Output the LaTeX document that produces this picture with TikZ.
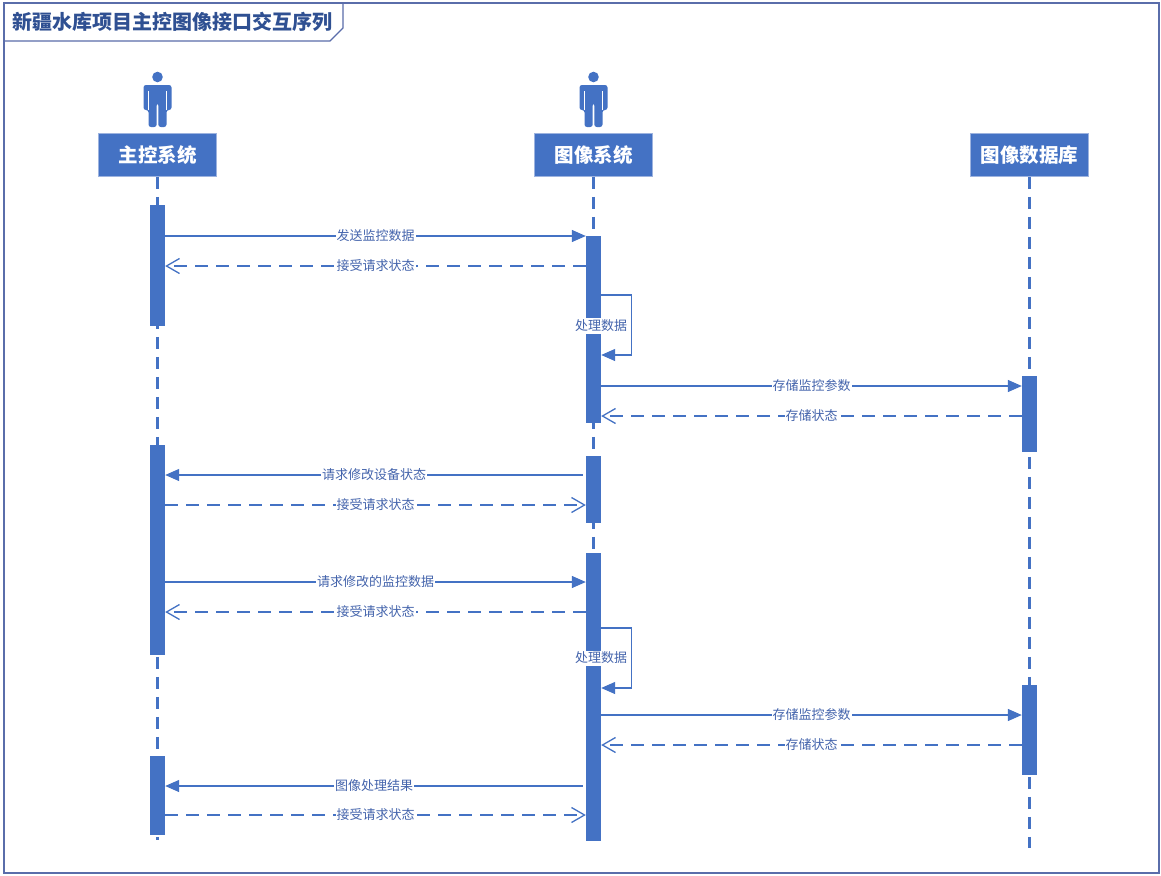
\documentclass[tikz,border=0pt]{standalone}
\usepackage{fontspec}
\setmainfont{Noto Sans CJK SC}
\usetikzlibrary{arrows.meta}
\definecolor{ublue}{HTML}{4472C4}
\definecolor{hdrline}{HTML}{9DB3DF}
\definecolor{framec}{HTML}{5A6DAA}
\definecolor{ttl}{HTML}{2F5092}
\definecolor{lbl}{HTML}{4464AC}
\begin{document}
\begin{tikzpicture}[x=1pt,y=-1pt,
  lifeline/.style={draw=ublue, line width=2.2pt, dash pattern=on 12pt off 8pt},
  actbar/.style={fill=ublue, draw=none, minimum width=15pt, inner sep=0pt, anchor=north},
  header/.style={fill=ublue, draw=hdrline, line width=0.8pt, text=white,
    font=\fontsize{19.5}{22}\selectfont\bfseries, minimum width=118pt, minimum height=43pt,
    inner sep=0pt, anchor=north},
  msg/.style={ublue, line width=1.3pt, -{Triangle[length=14pt,width=12pt]}},
  ret/.style={ublue, line width=1.3pt, dash pattern=on 13pt off 8pt,
    -{Straight Barb[length=13pt,width=15pt]}},
  lab/.style={fill=white, inner xsep=1pt, inner ysep=1.5pt, text=lbl,
    font=\fontsize{13}{15}\selectfont},
  actor/.pic={
    \fill[ublue] (0,0) circle (5.3pt);
    \fill[ublue, rounded corners=2.5pt] (-14,33) -- (-14,8) -- (14,8) -- (14,33) -- (9,33)
      -- (9,50) -- (0.8,50) -- (0.8,26) -- (-0.8,26) -- (-0.8,50) -- (-9,50) -- (-9,33) -- cycle;
    \draw[white, line width=0.8pt] (-9,14) -- (-9,33) (9,14) -- (9,33);
  }
]
\useasboundingbox (0,0) rectangle (1161,875);
\fill[white] (0,0) rectangle (1161,875);

% frame and title
\draw[framec, line width=1.1pt] (4,3) rectangle (1159,873);
\draw[framec, line width=1.1pt] (4,41) -- (330,41) -- (343,28) -- (343,3);
\node[anchor=west, text=ttl, font=\fontsize{20}{24}\selectfont\bfseries, inner sep=0pt]
  (title) at (12,22) {新疆水库项目主控图像接口交互序列};

% actors
\pic at (157.5,77) {actor};
\pic at (593.5,77) {actor};

% headers
\node[header] (h1) at (157.5,133) {主控系统};
\node[header] (h2) at (593.5,133) {图像系统};
\node[header] (h3) at (1029.5,133) {图像数据库};

% lifeline ends
\coordinate (e1) at (157.5,840);
\coordinate (e2) at (593.5,841);
\coordinate (e3) at (1029.5,848);
\draw[lifeline] (h1.south) -- (e1);
\draw[lifeline] (h2.south) -- (e2);
\draw[lifeline] (h3.south) -- (e3);

% activation bars
\node[actbar, minimum height=121pt] (a1) at (157.5,205) {};
\node[actbar, minimum height=210pt] (a2) at (157.5,445) {};
\node[actbar, minimum height=79pt]  (a3) at (157.5,756) {};
\node[actbar, minimum height=187pt] (b1) at (593.5,236) {};
\node[actbar, minimum height=67pt]  (b2) at (593.5,456) {};
\node[actbar, minimum height=288pt] (b3) at (593.5,553) {};
\node[actbar, minimum height=76pt]  (c1) at (1029.5,376) {};
\node[actbar, minimum height=90pt]  (c2) at (1029.5,685) {};

% message heights
\coordinate (m1) at (0,236);
\coordinate (m2) at (0,266);
\coordinate (s1a) at (0,295);
\coordinate (s1l) at (0,326);
\coordinate (s1b) at (0,355);
\coordinate (m3) at (0,386);
\coordinate (m4) at (0,416);
\coordinate (m5) at (0,475);
\coordinate (m6) at (0,505);
\coordinate (m7) at (0,582);
\coordinate (m8) at (0,612);
\coordinate (s2a) at (0,628);
\coordinate (s2l) at (0,658);
\coordinate (s2b) at (0,688);
\coordinate (m9) at (0,715);
\coordinate (m10) at (0,745);
\coordinate (m11) at (0,786);
\coordinate (m12) at (0,815);

% messages
\draw[msg] (a1.east |- m1) -- node[lab] {发送监控数据} (b1.west |- m1);
\draw[ret] (b1.west |- m2) -- node[lab] {接受请求状态} (a1.east |- m2);
\draw[msg] (b1.east |- s1a) -- ++(30,0) |- (b1.east |- s1b);
\node[lab] (p1) at (b1.east |- s1l) {处理数据};
\draw[msg] (b1.east |- m3) -- node[lab] {存储监控参数} (c1.west |- m3);
\draw[ret] (c1.west |- m4) -- node[lab] {存储状态} (b1.east |- m4);
\draw[msg] ([xshift=-3pt]b2.west |- m5) -- node[lab] {请求修改设备状态} (a2.east |- m5);
\draw[ret] (a2.east |- m6) -- node[lab] {接受请求状态} (b2.west |- m6);
\draw[msg] (a2.east |- m7) -- node[lab] {请求修改的监控数据} (b3.west |- m7);
\draw[ret] (b3.west |- m8) -- node[lab] {接受请求状态} (a2.east |- m8);
\draw[msg] (b3.east |- s2a) -- ++(30,0) |- (b3.east |- s2b);
\node[lab] (p2) at (b3.east |- s2l) {处理数据};
\draw[msg] (b3.east |- m9) -- node[lab] {存储监控参数} (c2.west |- m9);
\draw[ret] (c2.west |- m10) -- node[lab] {存储状态} (b3.east |- m10);
\draw[msg] ([xshift=-3pt]b3.west |- m11) -- node[lab] {图像处理结果} (a3.east |- m11);
\draw[ret] (a3.east |- m12) -- node[lab] {接受请求状态} (b3.west |- m12);
\end{tikzpicture}
\end{document}
